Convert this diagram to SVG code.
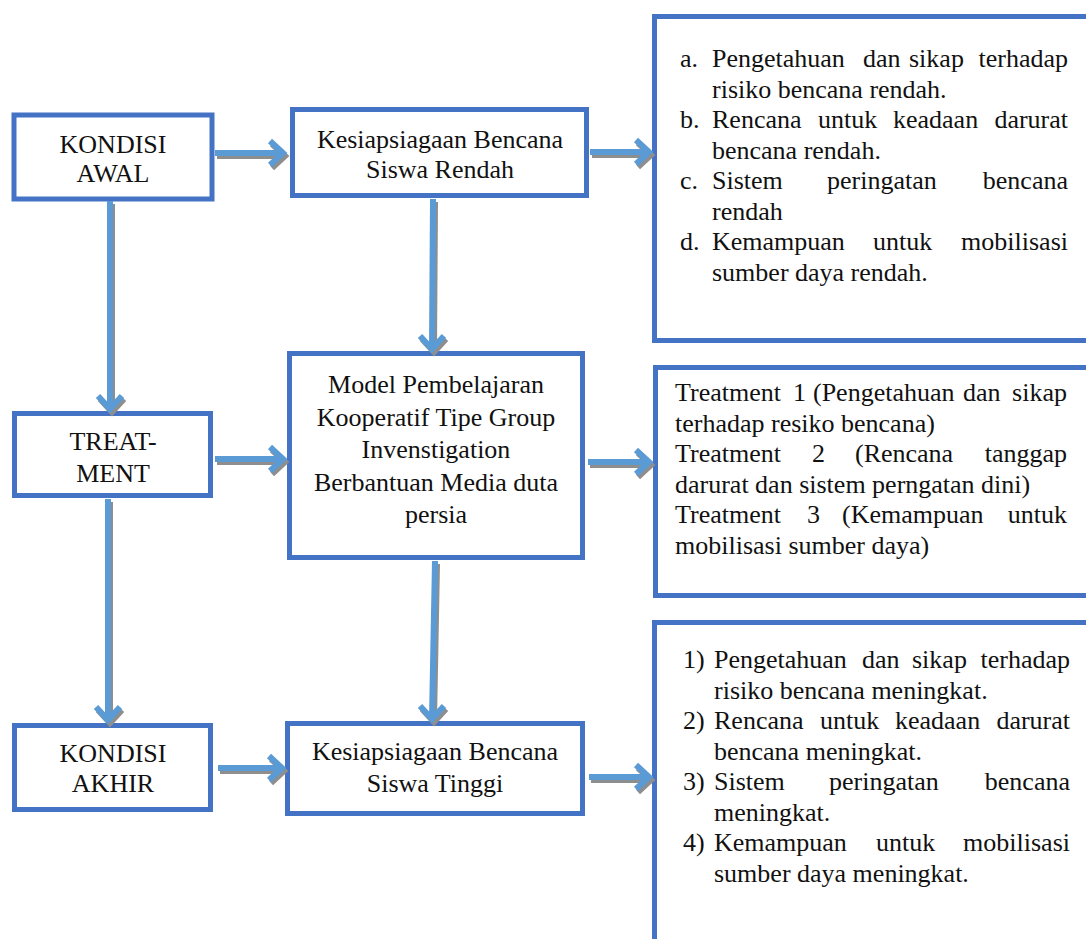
<svg xmlns="http://www.w3.org/2000/svg" width="1086" height="939" viewBox="0 0 1086 939">
<style>
.box{fill:#fff;stroke:#4472C4;stroke-width:5}
text{font-family:"Liberation Serif",serif;font-size:26px;fill:#111}
.c{text-anchor:middle}
.e{text-anchor:end}
.ln{fill:none;stroke:#5B9BD5;stroke-width:6;stroke-linejoin:miter}
.sh{fill:none;stroke:#8E8E8E;stroke-width:6;stroke-linejoin:miter}
</style>
<rect width="1086" height="939" fill="#fff"/>
<g id="right1"><rect class="box" x="654.5" y="16.5" width="460" height="324"/>
<text style="font-family:'Liberation Serif'"><tspan x="680" y="67">a.</tspan><tspan x="712" y="67">Pengetahuan</tspan><tspan x="863" y="67">dan</tspan><tspan x="909" y="67">sikap</tspan><tspan x="1068" y="67" class="e">terhadap</tspan></text>
<text style="font-family:'Liberation Serif'" x="712" y="97.5">risiko bencana rendah.</text>
<text style="font-family:'Liberation Serif'"><tspan x="680" y="128">b.</tspan><tspan x="712" y="128">Rencana</tspan><tspan x="818" y="128">untuk</tspan><tspan x="893" y="128">keadaan</tspan><tspan x="1068" y="128" class="e">darurat</tspan></text>
<text style="font-family:'Liberation Serif'" x="712" y="158.5">bencana rendah.</text>
<text style="font-family:'Liberation Serif'"><tspan x="680" y="189">c.</tspan><tspan x="712" y="189">Sistem</tspan><tspan x="827" y="189">peringatan</tspan><tspan x="1068" y="189" class="e">bencana</tspan></text>
<text style="font-family:'Liberation Serif'" x="712" y="219.5">rendah</text>
<text style="font-family:'Liberation Serif'"><tspan x="680" y="250">d.</tspan><tspan x="712" y="250">Kemampuan</tspan><tspan x="873" y="250">untuk</tspan><tspan x="1068" y="250" class="e">mobilisasi</tspan></text>
<text style="font-family:'Liberation Serif'" x="712" y="280.5">sumber daya rendah.</text>
</g>
<g id="right2"><rect class="box" x="655.5" y="367.5" width="460" height="228"/>
<text style="font-family:'Liberation Serif'"><tspan x="675" y="401">Treatment</tspan><tspan x="793" y="401">1</tspan><tspan x="813" y="401">(Pengetahuan</tspan><tspan x="963" y="401">dan</tspan><tspan x="1067" y="401" class="e">sikap</tspan></text>
<text style="font-family:'Liberation Serif'" x="675" y="431.5">terhadap resiko bencana)</text>
<text style="font-family:'Liberation Serif'"><tspan x="675" y="462">Treatment</tspan><tspan x="812" y="462">2</tspan><tspan x="855" y="462">(Rencana</tspan><tspan x="1067" y="462" class="e">tanggap</tspan></text>
<text style="font-family:'Liberation Serif'" x="675" y="492.5">darurat dan sistem perngatan dini)</text>
<text style="font-family:'Liberation Serif'"><tspan x="675" y="523">Treatment</tspan><tspan x="807" y="523">3</tspan><tspan x="842" y="523">(Kemampuan</tspan><tspan x="1067" y="523" class="e">untuk</tspan></text>
<text style="font-family:'Liberation Serif'" x="675" y="553.5">mobilisasi sumber daya)</text>
</g>
<g id="right3"><rect class="box" x="654.5" y="622.5" width="460" height="400"/>
<text style="font-family:'Liberation Serif'"><tspan x="683" y="668">1)</tspan><tspan x="714" y="668">Pengetahuan</tspan><tspan x="862" y="668">dan</tspan><tspan x="912" y="668">sikap</tspan><tspan x="1070" y="668" class="e">terhadap</tspan></text>
<text style="font-family:'Liberation Serif'" x="714" y="698.5">risiko bencana meningkat.</text>
<text style="font-family:'Liberation Serif'"><tspan x="683" y="729">2)</tspan><tspan x="714" y="729">Rencana</tspan><tspan x="820" y="729">untuk</tspan><tspan x="895" y="729">keadaan</tspan><tspan x="1070" y="729" class="e">darurat</tspan></text>
<text style="font-family:'Liberation Serif'" x="714" y="759.5">bencana meningkat.</text>
<text style="font-family:'Liberation Serif'"><tspan x="683" y="790">3)</tspan><tspan x="714" y="790">Sistem</tspan><tspan x="829" y="790">peringatan</tspan><tspan x="1070" y="790" class="e">bencana</tspan></text>
<text style="font-family:'Liberation Serif'" x="714" y="820.5">meningkat.</text>
<text style="font-family:'Liberation Serif'"><tspan x="683" y="851">4)</tspan><tspan x="714" y="851">Kemampuan</tspan><tspan x="876" y="851">untuk</tspan><tspan x="1070" y="851" class="e">mobilisasi</tspan></text>
<text style="font-family:'Liberation Serif'" x="714" y="881.5">sumber daya meningkat.</text>
</g>
<g id="kondisi-awal"><rect class="box" x="14" y="115" width="198" height="84"/>
<text class="c" style="font-family:'Liberation Serif'" x="113" y="153">KONDISI</text><text class="c" style="font-family:'Liberation Serif'" x="113" y="182">AWAL</text></g>
<g id="treatment"><rect class="box" x="14.5" y="413.5" width="196" height="82"/>
<text class="c" style="font-family:'Liberation Serif'" x="113" y="450">TREAT-</text><text class="c" style="font-family:'Liberation Serif'" x="113" y="482">MENT</text></g>
<g id="kondisi-akhir"><rect class="box" x="14.5" y="725.5" width="196" height="84"/>
<text class="c" style="font-family:'Liberation Serif'" x="113" y="762">KONDISI</text><text class="c" style="font-family:'Liberation Serif'" x="113" y="792">AKHIR</text></g>
<g id="rendah"><rect class="box" x="292.5" y="109.5" width="294" height="86"/>
<text class="c" style="font-family:'Liberation Serif'" x="440" y="148">Kesiapsiagaan Bencana</text><text class="c" style="font-family:'Liberation Serif'" x="440" y="178">Siswa Rendah</text></g>
<g id="model"><rect class="box" x="289.5" y="353.5" width="293" height="204"/>
<text class="c" style="font-family:'Liberation Serif'" x="436" y="393">Model Pembelajaran</text>
<text class="c" style="font-family:'Liberation Serif'" x="436" y="425.5">Kooperatif Tipe Group</text>
<text class="c" style="font-family:'Liberation Serif'" x="436" y="458">Invenstigation</text>
<text class="c" style="font-family:'Liberation Serif'" x="436" y="490.5">Berbantuan Media duta</text>
<text class="c" style="font-family:'Liberation Serif'" x="436" y="523">persia</text></g>
<g id="tinggi"><rect class="box" x="287.5" y="723.5" width="295" height="90"/>
<text class="c" style="font-family:'Liberation Serif'" x="435" y="760">Kesiapsiagaan Bencana</text><text class="c" style="font-family:'Liberation Serif'" x="435" y="792">Siswa Tinggi</text></g>
<g id="connectors">
<g class="sh" transform="translate(2,3)">
<path d="M215,153 H282 M270,141 L283,153 L270,165"/>
<path d="M590,152 H648 M636,140 L649,152 L636,164"/>
<path d="M215,459 H282 M270,447 L283,459 L270,471"/>
<path d="M588,462 H648 M636,450 L649,462 L636,474"/>
<path d="M218,768 H281 M269,756 L282,768 L269,780"/>
<path d="M589,777 H648 M636,765 L649,777 L636,789"/>
<path d="M110,201 V408 M98,396 L110,409 L122,396"/>
<path d="M108,499 V719 M96,707 L108,720 L120,707"/>
<path d="M433,199 L432,348 M420,336 L432,349 L444,336"/>
<path d="M435,561 L432,718 M420,706 L432,719 L444,706"/>
</g>
<g class="ln">
<path d="M215,153 H282 M270,141 L283,153 L270,165"/>
<path d="M590,152 H648 M636,140 L649,152 L636,164"/>
<path d="M215,459 H282 M270,447 L283,459 L270,471"/>
<path d="M588,462 H648 M636,450 L649,462 L636,474"/>
<path d="M218,768 H281 M269,756 L282,768 L269,780"/>
<path d="M589,777 H648 M636,765 L649,777 L636,789"/>
<path d="M110,201 V408 M98,396 L110,409 L122,396"/>
<path d="M108,499 V719 M96,707 L108,720 L120,707"/>
<path d="M433,199 L432,348 M420,336 L432,349 L444,336"/>
<path d="M435,561 L432,718 M420,706 L432,719 L444,706"/>
</g>
</g>
</svg>
